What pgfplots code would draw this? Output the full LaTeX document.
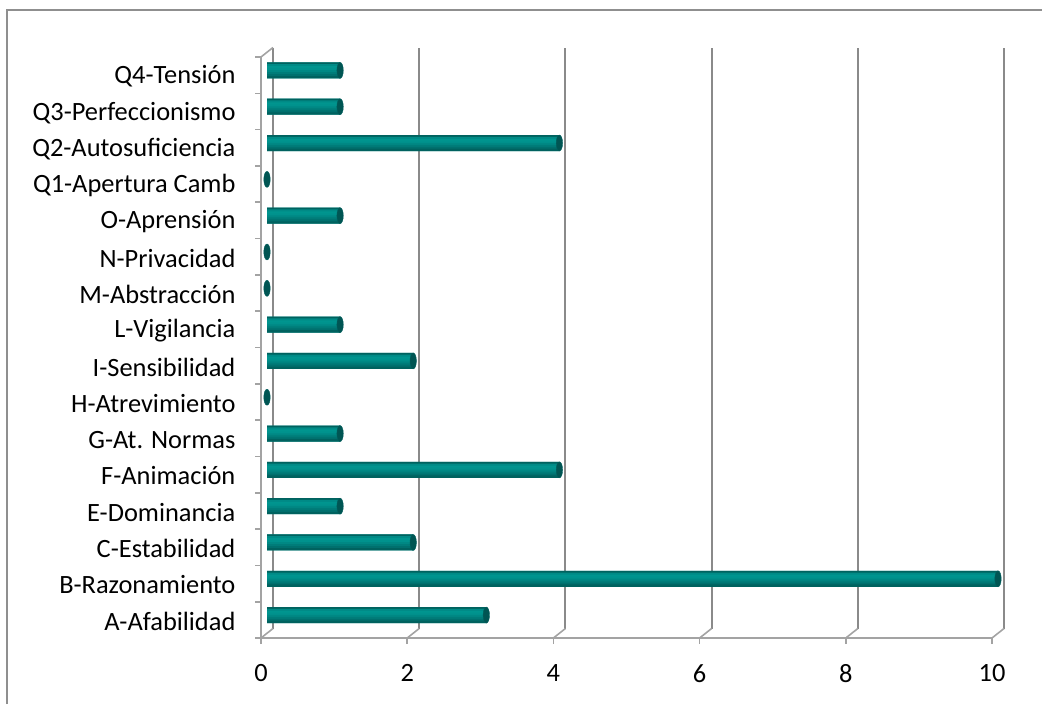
\documentclass[border=0pt]{standalone}
\usepackage{fontspec}
\setmainfont{Carlito}
\usepackage{pgfplots}
\usepackage{pgfplotstable}
\pgfplotsset{compat=1.18}

\definecolor{gridgray}{HTML}{8A8A8A}
\definecolor{axisgray}{HTML}{A3A3A3}
\definecolor{framegray}{HTML}{8F8F8F}
\definecolor{tealdark}{HTML}{005E5C}
\definecolor{tealcap}{HTML}{005553}
% cylinder body, top to bottom
\definecolor{tA}{HTML}{00625F}
\definecolor{tB}{HTML}{008A86}
\definecolor{tC}{HTML}{00958F}
\definecolor{tD}{HTML}{00928D}
\definecolor{tE}{HTML}{008884}
\definecolor{tF}{HTML}{007C79}
\definecolor{tG}{HTML}{00706E}
\definecolor{tH}{HTML}{00625F}

% 16PF factor scores (0 = bottom category)
\pgfplotstableread{
idx val
0  3
1  10
2  2
3  1
4  4
5  1
6  0
7  2
8  1
9  0
10 0
11 1
12 0
13 4
14 1
15 1
}\factors

\newcommand{\labfont}{\fontsize{19.8}{23}\selectfont}

% one horizontal band of the cylinder body: shift, width, colour
\newcommand{\band}[3]{%
  \addplot[xbar, bar width=#2, bar shift=#1, draw=none, fill=#3]
    table[x=val, y=idx] {\factors};}

\pgfplotsset{
  box/.style={
    scale only axis, width=548.25pt, height=435.75pt,
    xmin=0, xmax=10, ymin=-0.5, ymax=15.5,
    anchor=south west,
  },
}

\begin{document}
\begin{tikzpicture}
\useasboundingbox (0,0) rectangle (781.5pt,-528pt);
% chart frame
\draw[framegray, line width=0.9pt] (5.25pt,-528pt) -- (5.25pt,-7.5pt) -- (781.5pt,-7.5pt);

% back wall: vertical gridlines
\begin{axis}[box, at={(204.75pt,-471.375pt)},
  xtick={0,2,...,10}, xticklabels={}, ytick=\empty,
  xmajorgrids, major grid style={gridgray, line width=1.5pt},
  axis line style={draw=none}, tick style={draw=none}]
  \addplot[draw=none] coordinates {(0,0)};
\end{axis}

% front edges, ticks and labels
\begin{axis}[box, at={(195.75pt,-478.5pt)}, clip=false,
  axis x line*=bottom, axis y line*=left,
  axis line style={draw=axisgray, line width=1.2pt},
  xtick={0,2,...,10},
  ytick={0,...,15},
  yticklabels={A-Afabilidad,B-Razonamiento,C-Estabilidad,E-Dominancia,F-Animación,G-At. Normas,H-Atrevimiento,I-Sensibilidad,L-Vigilancia,M-Abstracción,N-Privacidad,O-Aprensión,Q1-Apertura Camb,Q2-Autosuficiencia,Q3-Perfeccionismo,Q4-Tensión},
  minor ytick={-0.5,0.5,...,15.5},
  tick align=outside,
  major tick length=4.5pt, minor tick length=4.5pt,
  every major y tick/.append style={draw=none},
  every minor y tick/.append style={axisgray, line width=1.2pt},
  every major x tick/.append style={axisgray, line width=1.2pt},
  /pgf/number format/assume math mode=true,
  tick label style={font=\labfont, inner sep=0pt},
  yticklabel style={anchor=east, xshift=-14.5pt, yshift=-1pt},
  xticklabel style={anchor=north, yshift=-15pt},
  ]
  \addplot[draw=none] coordinates {(0,0)};
  \draw[axisgray, line width=1.2pt] (axis cs:0,15.5) -- ++(9pt,7.125pt);
  \pgfplotsinvokeforeach{0,2,4,6,8,10}{
    \draw[axisgray, line width=1.2pt] (axis cs:#1,-0.5) -- ++(9pt,7.125pt);
  }
\end{axis}

% cylinders at mid depth: a base bar, then overlapping bands top to bottom
\begin{axis}[box, at={(200.25pt,-474.9375pt)}, hide axis, clip=false]
  \band{0pt}{12pt}{tE}
  \band{5.1pt}{1.8pt}{tA}
  \band{3.6pt}{2.2pt}{tB}
  \band{2.1pt}{2.2pt}{tC}
  \band{0.6pt}{2.2pt}{tD}
  \band{-0.9pt}{2.2pt}{tE}
  \band{-2.4pt}{2.2pt}{tF}
  \band{-3.9pt}{2.2pt}{tG}
  \band{-5.1pt}{1.8pt}{tH}
  \addplot[only marks, mark=*, mark size=6pt,
    mark options={xscale=0.4, fill=tealcap, draw=tealdark, line width=0.3pt}]
    table[x=val, y=idx] {\factors};
\end{axis}
\end{tikzpicture}
\end{document}
